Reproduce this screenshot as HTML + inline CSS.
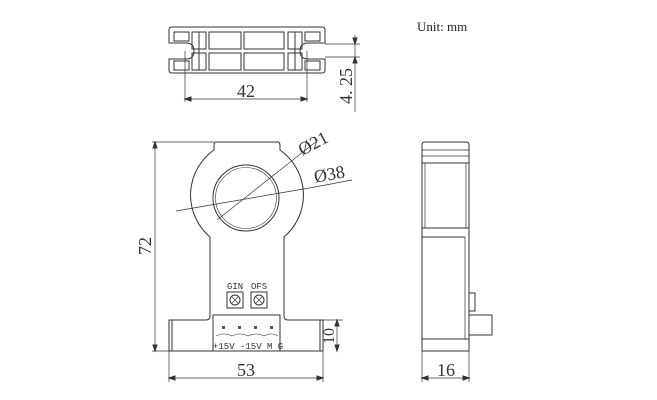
<!DOCTYPE html>
<html><head><style>body{margin:0;background:#fff}svg{display:block}</style></head><body>
<svg width="657" height="400" viewBox="0 0 657 400" xmlns="http://www.w3.org/2000/svg" font-family="Liberation Serif, serif" fill="none" stroke="#333" stroke-width="1">
<!-- top view -->
<path d="M172 27 H322 Q325 27 325 30 V43 H308 Q300 43 300 51 Q300 59 308 59 H325 V70 Q325 73 322 73 H172 Q169 73 169 70 V59 H186 Q194 59 194 51 Q194 43 186 43 H169 V30 Q169 27 172 27 Z"/>
<rect x="174" y="32" width="15" height="9"/><rect x="305" y="32" width="15" height="9"/>
<rect x="174" y="61" width="15" height="9"/><rect x="305" y="61" width="15" height="9"/>
<rect x="192" y="32" width="14" height="17"/><rect x="192" y="53" width="14" height="17"/>
<line x1="199" y1="32" x2="199" y2="70"/>
<rect x="288" y="32" width="14" height="17"/><rect x="288" y="53" width="14" height="17"/>
<line x1="295" y1="32" x2="295" y2="70"/>
<rect x="209" y="32" width="32" height="17"/><rect x="209" y="53" width="32" height="17"/>
<rect x="244" y="32" width="40" height="17"/><rect x="244" y="53" width="40" height="17"/>
<line x1="185" y1="51" x2="185" y2="102" stroke-width="0.7"/><line x1="307" y1="51" x2="307" y2="102" stroke-width="0.7"/>
<line x1="185" y1="99" x2="307" y2="99" stroke-width="0.7"/>
<path d="M185 99 l6 -2 v4z M307 99 l-6 -2 v4z" fill="#333"/>
<text x="246" y="97" font-size="18" fill="#333" stroke="none" text-anchor="middle">42</text>
<line x1="325" y1="44" x2="360" y2="44" stroke-width="0.7"/><line x1="325" y1="57" x2="360" y2="57" stroke-width="0.7"/>
<line x1="355" y1="35" x2="355" y2="112" stroke-width="0.7"/>
<path d="M355 44 l-2 -6 h4z M355 57 l-2 6 h4z" fill="#333"/>
<text transform="translate(352,86) rotate(-90)" font-size="18" fill="#333" stroke="none" text-anchor="middle">4. 25</text>
<text x="417" y="31" font-size="13" fill="#222" stroke="none">Unit: mm</text>
<!-- front view -->
<path d="M216 142 H278 Q280 142 280 146 V150 A55 55 0 0 1 284 237 V316 Q284 320 288 320 H323 V351 H169 V320 H206 Q210 320 210 316 V237 A55 55 0 0 1 214 150 V146 Q214 142 216 142 Z"/>
<circle cx="246" cy="198" r="33"/>
<circle cx="246" cy="198" r="30.5" stroke-width="0.6"/>
<line x1="172" y1="320" x2="172" y2="351"/>
<line x1="320" y1="320" x2="320" y2="351"/>
<line x1="176" y1="211" x2="315" y2="187" stroke-width="0.7"/>
<line x1="217" y1="220" x2="308" y2="148" stroke-width="0.7"/>
<line x1="308" y1="148" x2="318" y2="140" stroke-width="0.7"/>
<line x1="315" y1="187" x2="352" y2="180" stroke-width="0.7"/>
<text x="298" y="151" font-size="18" fill="#333" stroke="none" transform="rotate(-28 310 145)">Ø21</text>
<text x="314" y="180" font-size="18" fill="#333" stroke="none" transform="rotate(-10 330 175)">Ø38</text>
<text x="227" y="289" font-size="9" fill="#333" stroke="none" font-family="Liberation Mono, monospace">GIN</text>
<text x="251" y="289" font-size="9" fill="#333" stroke="none" font-family="Liberation Mono, monospace">OFS</text>
<rect x="227" y="292" width="16" height="16"/><rect x="251" y="292" width="16" height="16"/>
<circle cx="235" cy="300" r="5"/><circle cx="259" cy="300" r="5"/>
<path d="M232 297 l6 6 M238 297 l-6 6 M256 297 l6 6 M262 297 l-6 6" stroke-width="0.7"/>
<rect x="213" y="315" width="67" height="36"/>
<g fill="#555" stroke="none"><rect x="222" y="326" width="3" height="3"/><rect x="238" y="326" width="3" height="3"/><rect x="254" y="326" width="3" height="3"/><rect x="270" y="326" width="3" height="3"/></g>
<path d="M216 336 q8 -4 16 0 q8 -4 16 0 q8 -4 16 0 q8 -4 14 0" stroke-width="0.6"/>
<text x="213" y="349" font-size="9" fill="#333" stroke="none" font-family="Liberation Mono, monospace">+15V -15V M G</text>
<line x1="152" y1="142" x2="214" y2="142" stroke-width="0.7"/>
<line x1="152" y1="351" x2="169" y2="351" stroke-width="0.7"/>
<line x1="155" y1="142" x2="155" y2="351" stroke-width="0.7"/>
<path d="M155 142 l-2 6 h4z M155 351 l-2 -6 h4z" fill="#333"/>
<text transform="translate(151,246) rotate(-90)" font-size="18" fill="#333" stroke="none" text-anchor="middle">72</text>
<line x1="323" y1="320" x2="343" y2="320" stroke-width="0.7"/>
<line x1="337" y1="320" x2="337" y2="351" stroke-width="0.7"/>
<path d="M337 320 l-2 6 h4z M337 351 l-2 -6 h4z" fill="#333"/>
<text transform="translate(334,336) rotate(-90)" font-size="16" fill="#333" stroke="none" text-anchor="middle">10</text>
<line x1="169" y1="351" x2="169" y2="382" stroke-width="0.7"/><line x1="323" y1="351" x2="323" y2="382" stroke-width="0.7"/>
<line x1="169" y1="378" x2="323" y2="378" stroke-width="0.7"/>
<path d="M169 378 l6 -2 v4z M323 378 l-6 -2 v4z" fill="#333"/>
<text x="246" y="376" font-size="18" fill="#333" stroke="none" text-anchor="middle">53</text>
<!-- side view -->
<path d="M425 142 H466 Q469 142 469 145 V351 H422 V145 Q422 142 425 142 Z"/>
<line x1="422" y1="150" x2="469" y2="150" stroke-width="0.7"/>
<line x1="422" y1="156" x2="469" y2="156" stroke-width="0.7"/>
<line x1="422" y1="163" x2="469" y2="163"/>
<line x1="425" y1="163" x2="425" y2="228" stroke-width="0.7"/>
<line x1="466" y1="163" x2="466" y2="228" stroke-width="0.7"/>
<line x1="422" y1="228" x2="469" y2="228"/>
<line x1="422" y1="237" x2="465" y2="237"/>
<line x1="465" y1="237" x2="465" y2="339" stroke-width="0.7"/>
<line x1="422" y1="339" x2="469" y2="339"/>
<rect x="469" y="293" width="6" height="18"/>
<rect x="469" y="315" width="23" height="20"/>
<line x1="422" y1="351" x2="422" y2="382" stroke-width="0.7"/><line x1="469" y1="351" x2="469" y2="382" stroke-width="0.7"/>
<line x1="422" y1="378" x2="469" y2="378" stroke-width="0.7"/>
<path d="M422 378 l6 -2 v4z M469 378 l-6 -2 v4z" fill="#333"/>
<text x="446" y="376" font-size="18" fill="#333" stroke="none" text-anchor="middle">16</text>
</svg>
</body></html>
